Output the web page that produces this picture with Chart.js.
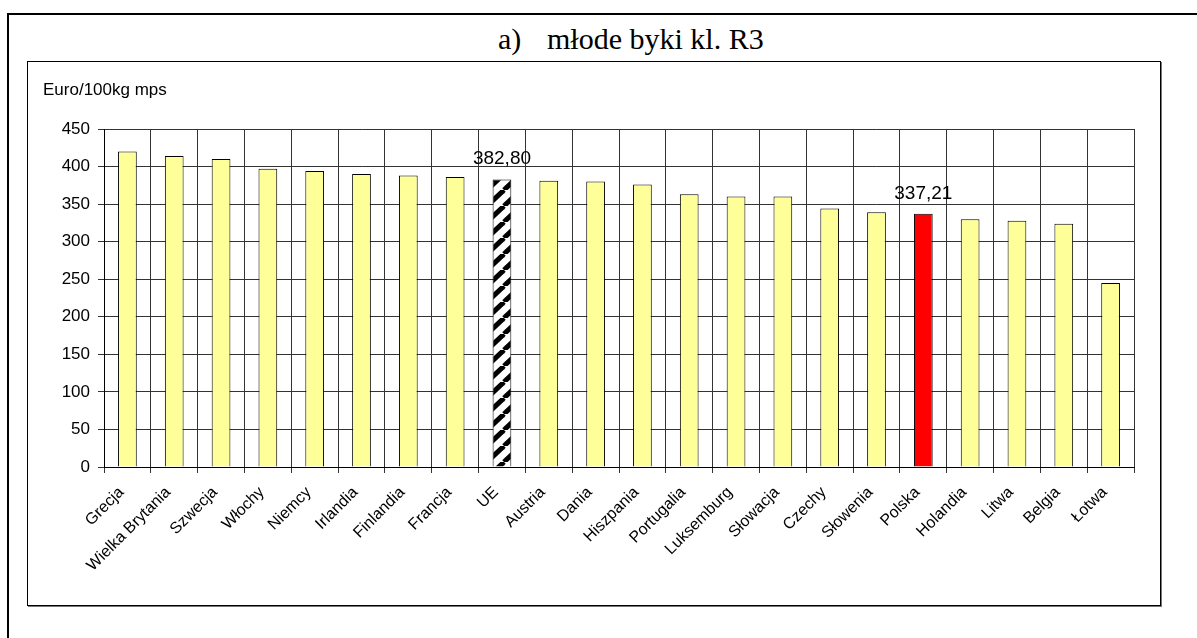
<!DOCTYPE html>
<html><head><meta charset="utf-8">
<script src="https://cdn.jsdelivr.net/npm/chart.js@4.4.1/dist/chart.umd.min.js"></script>
<style>
html,body{margin:0;padding:0;background:#fff;width:1197px;height:638px;overflow:hidden;}
#frameTop{position:absolute;left:7px;top:13px;width:1190px;height:2px;background:#000;}
#frameLeft{position:absolute;left:7px;top:13px;width:2px;height:625px;background:#000;}
.title{position:absolute;top:24px;font-family:"Liberation Serif","Times New Roman",serif;font-size:30px;line-height:30px;color:#000;white-space:nowrap;}
#box{position:absolute;left:27px;top:61px;width:1132px;height:543px;border:1px solid #000;box-shadow:1px 1px 0 #777;background:#fff;}
#ylab{position:absolute;left:43px;top:81px;font-family:"Liberation Sans",Arial,sans-serif;font-size:17px;line-height:17px;color:#000;white-space:nowrap;}
#wrap{position:absolute;left:28px;top:62px;width:1132px;height:543px;}
</style>
</head>
<body>
<div id="frameTop"></div>
<div id="frameLeft"></div>
<div class="title" style="left:498px;">a)</div>
<div class="title" style="left:547px;">młode byki kl. R3</div>
<div id="box"></div>
<div id="wrap"><canvas id="c"></canvas></div>
<div id="ylab">Euro/100kg mps</div>
<script>
const categories = ["Grecja","Wielka Brytania","Szwecja","Włochy","Niemcy","Irlandia","Finlandia","Francja","UE","Austria","Dania","Hiszpania","Portugalia","Luksemburg","Słowacja","Czechy","Słowenia","Polska","Holandia","Litwa","Belgia","Łotwa"];
const values = [420,414,410,397,394,390,388,386,382.80,381,380,376,363,360,360,344,339,337.21,330,328,324,245];
const yTicks = [0,50,100,150,200,250,300,350,400,450];
const labeledCategories = ["UE","Polska"];
const averageCategory = "UE";
const highlightCategory = "Polska";

function makeStripePattern(){
  const w = 17, h = 16;
  const t = document.createElement('canvas');
  t.width = w; t.height = h;
  const g = t.getContext('2d');
  g.fillStyle = '#fff'; g.fillRect(0,0,w,h);
  g.strokeStyle = '#000'; g.lineWidth = 5;
  for (let k=-1;k<=1;k++){
    g.beginPath(); g.moveTo(k*w, h); g.lineTo(k*w+w, 0); g.stroke();
  }
  return g.createPattern(t,'repeat');
}
const stripe = makeStripePattern();
const fills = categories.map(c => c===averageCategory ? stripe : (c===highlightCategory ? '#FF0000' : '#FFFF99'));

function formatPL(v){ return v.toFixed(2).replace('.',','); }

const valueLabelPlugin = {
  id:'valueLabels',
  afterDatasetsDraw(chart){
    const meta = chart.getDatasetMeta(0);
    const ctx = chart.ctx;
    ctx.save();
    ctx.font = '19px "Liberation Sans", Arial, sans-serif';
    ctx.fillStyle = '#000'; ctx.textAlign = 'center'; ctx.textBaseline = 'alphabetic';
    meta.data.forEach((bar,i)=>{
      if (labeledCategories.includes(categories[i])) {
        ctx.fillText(formatPL(values[i]), bar.x, bar.y - 15);
      }
    });
    ctx.restore();
  }
};

new Chart(document.getElementById('c'), {
  type:'bar',
  data:{
    labels: categories,
    datasets:[{
      data: values,
      backgroundColor: fills,
      borderColor:'#000',
      borderWidth:1,
      barPercentage:0.4,
      categoryPercentage:1.0
    }]
  },
  options:{
    responsive:true,
    maintainAspectRatio:false,
    animation:false,
    layout:{padding:{left:0,right:26,top:67,bottom:0}},
    plugins:{legend:{display:false},tooltip:{enabled:false},title:{display:false}},
    scales:{
      x:{
        grid:{color:'#333',lineWidth:1,offset:true,drawTicks:true,tickLength:6},
        border:{color:'#000',width:1},
        ticks:{autoSkip:false,minRotation:45,maxRotation:45,padding:10,labelOffset:-6,color:'#000',
               font:{family:'"Liberation Sans", Arial, sans-serif',size:16}},
        afterFit(s){ s.height = 138; }
      },
      y:{
        min:0,max:450,
        afterBuildTicks(s){ s.ticks = yTicks.map(v=>({value:v})); },
        grid:{color:'#333',lineWidth:1,drawTicks:true,tickLength:6},
        border:{color:'#000',width:1},
        ticks:{padding:8,color:'#000',font:{family:'"Liberation Sans", Arial, sans-serif',size:17}},
        afterFit(s){ s.width = 76; }
      }
    }
  },
  plugins:[valueLabelPlugin]
});
</script>
</body></html>
